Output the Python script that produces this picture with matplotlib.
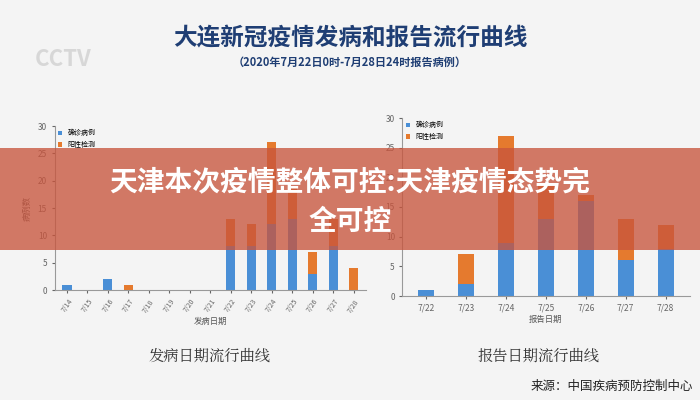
import matplotlib
matplotlib.use("Agg")
import matplotlib.pyplot as plt
from matplotlib.patches import Rectangle
import numpy as np

plt.rcParams['font.family'] = ['Noto Sans CJK SC', 'DejaVu Sans']

onset_dates = ['7/14','7/15','7/16','7/17','7/18','7/19','7/20','7/21','7/22','7/23','7/24','7/25','7/26','7/27','7/28']
onset_confirmed = [1,0,2,0,0,0,0,0,8,8,12,13,3,8,0]
onset_positive = [0,0,0,1,0,0,0,0,5,4,15,6,4,5,4]

report_dates = ['7/22','7/23','7/24','7/25','7/26','7/27','7/28']
report_confirmed = [1,2,9,13,16,6,8]
report_positive = [0,5,18,6,1,7,4]

legend_labels = ['确诊病例', '阳性检测']
blue = '#4a8fd6'
orange = '#e57a2e'

fig = plt.figure(figsize=(7,4), dpi=100)
fig.patch.set_facecolor('#f4f4f4')

def draw(ax, dates, conf, pos, width):
    x = np.arange(len(dates))
    ax.bar(x, conf, width, color=blue, label=legend_labels[0])
    ax.bar(x, pos, width, bottom=conf, color=orange, label=legend_labels[1])
    ax.set_ylim(0, 30)
    ax.set_yticks(range(0, 31, 5))
    ax.set_xticks(x)
    ax.set_facecolor('#f4f4f4')
    for s in ['top', 'right']:
        ax.spines[s].set_visible(False)
    ax.spines['left'].set_color('#999999')
    ax.spines['bottom'].set_color('#999999')
    ax.tick_params(labelsize=6, colors='#666666', length=2)
    ax.legend(loc='upper left', fontsize=5, frameon=False, handlelength=0.6, handleheight=0.6, borderaxespad=0.1)
    ax.set_xlim(-0.6, len(dates) - 0.4)

ax1 = fig.add_axes([0.078, 0.275, 0.445, 0.41])
draw(ax1, onset_dates, onset_confirmed, onset_positive, 0.45)
ax1.set_xticklabels(onset_dates, rotation=55, fontsize=5)
ax1.set_xlabel('发病日期', fontsize=6, color='#555555', labelpad=2)
ax1.set_ylabel('病例数', fontsize=6, color='#555555')

ax2 = fig.add_axes([0.575, 0.26, 0.41, 0.445])
draw(ax2, report_dates, report_confirmed, report_positive, 0.4)
ax2.set_xticklabels(report_dates, fontsize=6)
ax2.set_xlabel('报告日期', fontsize=6, color='#555555', labelpad=2)

fig.text(0.5, 0.905, '大连新冠疫情发病和报告流行曲线', ha='center', va='center', fontsize=17, fontweight='bold', color='#1f3e74')
fig.text(0.5, 0.845, '（2020年7月22日0时-7月28日24时报告病例）', ha='center', va='center', fontsize=8, fontweight='bold', color='#1f3e74')
fig.text(0.09, 0.85, 'CCTV', ha='center', va='center', fontsize=16, fontweight='bold', color='#cccccc', alpha=0.7)

fig.text(0.3, 0.11, '发病日期流行曲线', ha='center', va='center', fontsize=11, color='#333333', family=['Noto Serif CJK SC', 'Noto Sans CJK SC'])
fig.text(0.77, 0.11, '报告日期流行曲线', ha='center', va='center', fontsize=11, color='#333333', family=['Noto Serif CJK SC', 'Noto Sans CJK SC'])
fig.text(0.99, 0.035, '来源：中国疾病预防控制中心', ha='right', va='center', fontsize=9, color='#222222')

fig.patches.append(Rectangle((0, 0.375), 1, 0.255, transform=fig.transFigure, facecolor='#c8553d', alpha=0.78, edgecolor='none', zorder=5))
fig.text(0.5, 0.545, '天津本次疫情整体可控:天津疫情态势完', ha='center', va='center', fontsize=20, fontweight='bold', color='white', zorder=6)
fig.text(0.5, 0.445, '全可控', ha='center', va='center', fontsize=20, fontweight='bold', color='white', zorder=6)

fig.savefig('out.png', dpi=100, facecolor=fig.get_facecolor())
